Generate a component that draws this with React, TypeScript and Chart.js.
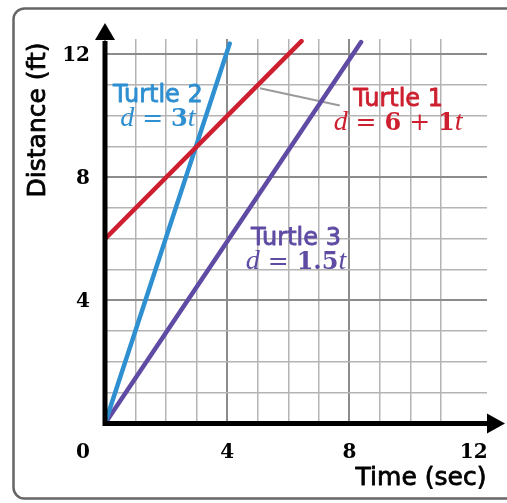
import React, { useEffect, useRef } from 'react';
import { Chart, registerables } from 'chart.js';

Chart.register(...registerables);

// ---- data ----
const turtle1Points = [
  { x: 0, y: 6 },
  { x: 6.43, y: 12.43 },
];
const turtle2Points = [
  { x: 0, y: 0 },
  { x: 4.08, y: 12.35 },
];
const turtle3Points = [
  { x: 0, y: 0 },
  { x: 8.38, y: 12.4 },
];
const seriesNames = ['Turtle 1', 'Turtle 2', 'Turtle 3'];
const seriesColors = ['#cd1f2f', '#2e8fd1', '#5f4ba3'];
const xTickValues = [0, 4, 8, 12];
const yTickValues = [4, 8, 12];
const axisMax = 12.5;
const xTitle = 'Time (sec)';
const yTitle = 'Distance (ft)';

// equation parts: [text, style] where style: i = italic letter, b = bold digit, o = operator
const eq1: [string, string][] = [['d', 'i'], [' = ', 'o'], ['6', 'b'], [' + ', 'o'], ['1', 'b'], ['t', 'i']];
const eq2: [string, string][] = [['d', 'i'], [' = ', 'o'], ['3', 'b'], ['t', 'i']];
const eq3: [string, string][] = [['d', 'i'], [' = ', 'o'], ['1.5', 'b'], ['t', 'i']];

// annotation anchors (centre, name baseline) in data units
const labelAnchors: { x: number; y: number; eq: [string, string][] }[] = [
  { x: 9.59, y: 10.32, eq: eq1 },
  { x: 1.73, y: 10.45, eq: eq2 },
  { x: 6.25, y: 5.8, eq: eq3 },
];
const leader = [
  { x: 5.07, y: 10.9 },
  { x: 7.68, y: 10.34 },
];

const SANS = '"DejaVu Sans", sans-serif';

function eqFont(style: string) {
  if (style === 'i') return 'italic 28px "Liberation Serif", serif';
  if (style === 'b') return 'bold 24px "DejaVu Serif", serif';
  return '25px "DejaVu Serif", serif';
}

function heavyText(ctx: CanvasRenderingContext2D, t: string, x: number, y: number, w: number) {
  ctx.fillText(t, x, y);
  ctx.lineWidth = w;
  ctx.strokeStyle = ctx.fillStyle as string;
  ctx.lineJoin = 'round';
  ctx.strokeText(t, x, y);
}

const overlay = {
  id: 'overlay',
  beforeDraw(chart: any) {
    const { ctx } = chart;
    ctx.save();
    ctx.fillStyle = '#ffffff';
    ctx.fillRect(0, 0, chart.width, chart.height);
    ctx.strokeStyle = '#666666';
    ctx.lineWidth = 2.5;
    ctx.beginPath();
    (ctx as any).roundRect(13.5, 8.5, 520, 490, 11);
    ctx.stroke();
    ctx.restore();
  },
  beforeDatasetsDraw(chart: any) {
    const { ctx } = chart;
    const xs = chart.scales.x;
    const ys = chart.scales.y;
    ctx.save();
    ctx.strokeStyle = '#9a9a9a';
    ctx.lineWidth = 2;
    ctx.beginPath();
    ctx.moveTo(xs.getPixelForValue(leader[0].x), ys.getPixelForValue(leader[0].y));
    ctx.lineTo(xs.getPixelForValue(leader[1].x), ys.getPixelForValue(leader[1].y));
    ctx.stroke();
    ctx.restore();
  },
  afterDatasetsDraw(chart: any) {
    const { ctx } = chart;
    const xs = chart.scales.x;
    const ys = chart.scales.y;
    const x0 = xs.getPixelForValue(0);
    const y0 = ys.getPixelForValue(0);
    const xEnd = xs.getPixelForValue(axisMax);
    const yEnd = ys.getPixelForValue(axisMax);
    ctx.save();
    // axes
    ctx.strokeStyle = '#000';
    ctx.fillStyle = '#000';
    ctx.lineWidth = 5;
    ctx.lineCap = 'butt';
    ctx.beginPath();
    ctx.moveTo(x0, y0 + 2.5);
    ctx.lineTo(x0, yEnd + 2);
    ctx.moveTo(x0 - 2.5, y0);
    ctx.lineTo(xEnd + 1, y0);
    ctx.stroke();
    // arrows
    ctx.beginPath();
    ctx.moveTo(x0, yEnd - 16);
    ctx.lineTo(x0 - 10, yEnd + 1);
    ctx.lineTo(x0 + 10, yEnd + 1);
    ctx.closePath();
    ctx.fill();
    ctx.beginPath();
    ctx.moveTo(xEnd + 18, y0);
    ctx.lineTo(xEnd, y0 - 10);
    ctx.lineTo(xEnd, y0 + 10);
    ctx.closePath();
    ctx.fill();

    // tick labels
    ctx.font = 'bold 20px "DejaVu Serif", serif';
    ctx.textBaseline = 'middle';
    ctx.textAlign = 'right';
    yTickValues.forEach((v) => {
      ctx.fillText(String(v), x0 - 15, ys.getPixelForValue(v) + 1);
    });
    ctx.textAlign = 'center';
    xTickValues.forEach((v) => {
      const px = v === 0 ? x0 - 22 : xs.getPixelForValue(v) + (v === 12 ? 2 : 0);
      ctx.fillText(String(v), px, y0 + 29);
    });

    // axis titles
    ctx.font = `25px ${SANS}`;
    ctx.textAlign = 'center';
    heavyText(ctx, xTitle, 421, y0 + 55, 0.8);
    ctx.save();
    ctx.translate(38, 120);
    ctx.rotate(-Math.PI / 2);
    heavyText(ctx, yTitle, 0, 0, 0.8);
    ctx.restore();

    // series annotations
    labelAnchors.forEach((a, i) => {
      const px = xs.getPixelForValue(a.x);
      const py = ys.getPixelForValue(a.y);
      ctx.fillStyle = seriesColors[i];
      ctx.textBaseline = 'alphabetic';
      ctx.font = `24px ${SANS}`;
      ctx.textAlign = 'center';
      heavyText(ctx, seriesNames[i], px, py, 0.8);
      // equation
      let total = 0;
      a.eq.forEach(([t, s]) => {
        ctx.font = eqFont(s);
        total += ctx.measureText(t).width;
      });
      let cx = px - total / 2;
      ctx.textAlign = 'left';
      a.eq.forEach(([t, s]) => {
        ctx.font = eqFont(s);
        ctx.fillText(t, cx, py + 24);
        cx += ctx.measureText(t).width;
      });
    });
    ctx.restore();
  },
};

export default function App() {
  const ref = useRef<HTMLCanvasElement>(null);
  useEffect(() => {
    document.body.style.margin = '0';
    const canvas = ref.current!;
    const gridColor = (c: any) => {
      const v = c.tick ? c.tick.value : 0;
      if (Math.abs(v - Math.round(v)) > 1e-6) return 'rgba(0,0,0,0)';
      return Math.round(v) % 4 === 0 ? '#8c8c8c' : '#b4b4b4';
    };
    const gridWidth = (c: any) => {
      const v = c.tick ? c.tick.value : 0;
      return Math.round(v) % 4 === 0 ? 2 : 1.5;
    };
    const chart = new Chart(canvas, {
      type: 'scatter',
      data: {
        datasets: [
          { label: seriesNames[0], data: turtle1Points, borderColor: seriesColors[0] },
          { label: seriesNames[1], data: turtle2Points, borderColor: seriesColors[1] },
          { label: seriesNames[2], data: turtle3Points, borderColor: seriesColors[2] },
        ].map((d) => ({
          ...d,
          showLine: true,
          borderWidth: 4.5,
          borderCapStyle: 'round' as const,
          pointRadius: 0,
          pointHoverRadius: 0,
        })),
      },
      options: {
        responsive: false,
        animation: false,
        events: [],
        layout: { padding: { left: 105, right: 20, top: 39, bottom: 79.5 } },
        plugins: { legend: { display: false }, tooltip: { enabled: false } },
        scales: {
          x: {
            type: 'linear',
            min: 0,
            max: axisMax,
            ticks: { display: false, stepSize: 1 },
            grid: { color: gridColor, lineWidth: gridWidth, drawTicks: false },
            border: { display: false },
          },
          y: {
            type: 'linear',
            min: 0,
            max: axisMax,
            ticks: { display: false, stepSize: 1 },
            grid: { color: gridColor, lineWidth: gridWidth, drawTicks: false },
            border: { display: false },
          },
        },
      },
      plugins: [overlay],
    });
    return () => chart.destroy();
  }, []);
  return <canvas ref={ref} width={507} height={503} style={{ display: 'block', width: 507, height: 503 }} />;
}
